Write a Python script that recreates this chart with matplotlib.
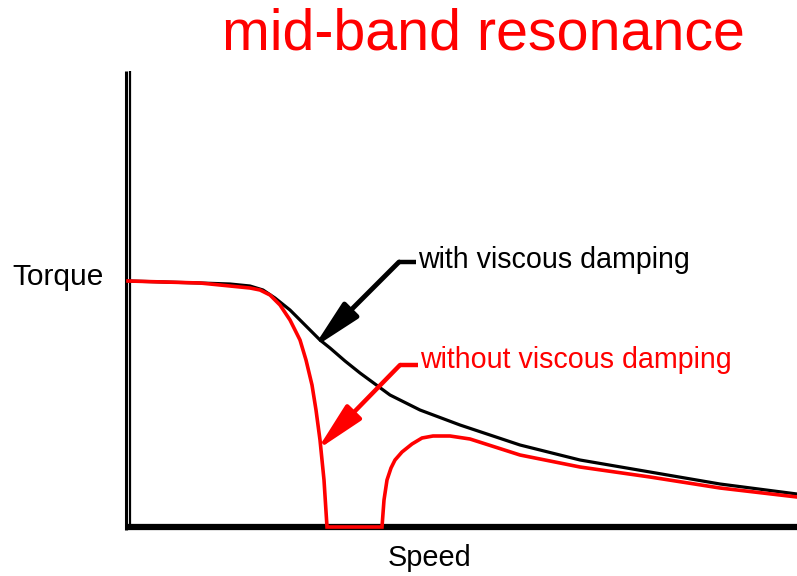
import matplotlib
matplotlib.use("Agg")
import matplotlib.pyplot as plt
from matplotlib.lines import Line2D

plt.rcParams['font.family'] = ['Liberation Sans', 'DejaVu Sans']

# Speed vs Torque (arbitrary units)
speed_damped = [0, 72, 102, 122, 135, 147, 162, 172, 182, 192, 202, 217, 232, 247,
                262, 292, 332, 392, 452, 522, 592, 669]
torque_damped = [246, 244, 243, 241, 237, 229, 217, 207, 197, 187, 179, 166, 154, 143,
                 132, 117, 102, 82, 67, 55, 43, 33]

speed_undamped = [0, 72, 102, 122, 132, 142, 152, 162, 172, 178, 184, 188, 192, 196, 199,
                  254, 256, 259, 263, 267, 274, 284, 294, 305, 322, 342, 392, 452, 522,
                  592, 669]
torque_undamped = [246, 244, 241, 239, 237, 232, 222, 207, 187, 167, 142, 117, 87, 47, 0,
                   0, 27, 47, 59, 67, 75, 83, 89, 91, 91, 88, 72, 60, 50, 39, 30]

title = "mid-band resonance"
label_damped = "with viscous damping"
label_undamped = "without viscous damping"

W, H = 797, 576
fig = plt.figure(figsize=(W / 100, H / 100), dpi=100)
ax = fig.add_axes([128 / W, (H - 527) / H, (W - 128) / W, (527 - 71) / H])
ax.set_xlim(0, 669)
ax.set_ylim(0, 456)
for s in ax.spines.values():
    s.set_visible(False)
ax.set_xticks([])
ax.set_yticks([])

# axes lines
ax.add_line(Line2D([0, 1], [0, 0], transform=ax.transAxes, color='black', lw=4.5,
                   clip_on=False, solid_capstyle='butt', zorder=2))
ax.add_line(Line2D([-0.0035, -0.0035], [-0.006, 1.0], transform=ax.transAxes, color='black',
                   lw=2.2, clip_on=False, solid_capstyle='butt', zorder=2))
ax.add_line(Line2D([0.003, 0.003], [0, 1.0], transform=ax.transAxes, color='black',
                   lw=1.6, clip_on=False, solid_capstyle='butt', zorder=2))

ax.plot(speed_damped, torque_damped, color='black', lw=2.3, clip_on=False, zorder=3,
        solid_joinstyle='round')
ax.plot(speed_undamped, torque_undamped, color='#ff0000', lw=2.6, clip_on=False, zorder=4,
        solid_joinstyle='miter')

# annotations
ast = "-|>,head_length=1.5,head_width=0.32"
ax.plot([271, 288], [265, 265], color='black', lw=3.2, solid_capstyle='butt')
ax.annotate("", xy=(185, 179), xytext=(271, 265),
            arrowprops=dict(arrowstyle=ast, color='black', lw=3.5, mutation_scale=20,
                            shrinkA=0, shrinkB=0))
ax.text(290, 267, label_damped, fontsize=20.6, color='black', va='center', ha='left')

ax.plot([272, 290], [162, 162], color='#ff0000', lw=3.2, solid_capstyle='butt')
ax.annotate("", xy=(189, 77), xytext=(272, 162),
            arrowprops=dict(arrowstyle=ast, color='#ff0000', lw=3.2, mutation_scale=20,
                            shrinkA=0, shrinkB=0))
ax.text(292, 167, label_undamped, fontsize=20.6, color='#ff0000', va='center', ha='left')

fig.text(483 / W, 1 - 35 / H, title, fontsize=41.3, color='#ff0000', ha='center', va='center')
fig.text(58 / W, 1 - 277 / H, "Torque", fontsize=21.5, color='black', ha='center', va='center')
fig.text(430 / W, 1 - 558 / H, "Speed", fontsize=20.8, color='black', ha='center', va='center')

fig.savefig("out.png", dpi=100)
